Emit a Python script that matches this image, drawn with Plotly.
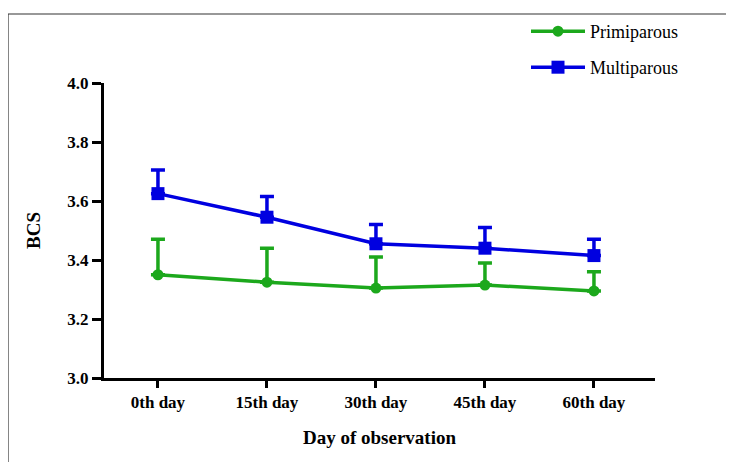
import plotly.graph_objects as go

days = ["0th day", "15th day", "30th day", "45th day", "60th day"]
primi_mean = [3.35, 3.325, 3.305, 3.315, 3.295]
primi_err = [0.12, 0.115, 0.105, 0.075, 0.065]
multi_mean = [3.625, 3.545, 3.455, 3.44, 3.415]
multi_err = [0.08, 0.07, 0.065, 0.07, 0.055]
yticks = [3.0, 3.2, 3.4, 3.6, 3.8, 4.0]

green = "#1ca81c"
blue = "#0000e0"
xs = list(range(len(days)))

fig = go.Figure()
fig.add_trace(go.Scatter(
    x=xs, y=primi_mean, name="Primiparous", mode="lines+markers",
    line=dict(color=green, width=3.5),
    marker=dict(symbol="circle", size=11, color=green),
    error_y=dict(type="data", array=primi_err, arrayminus=[0]*5, symmetric=False,
                 color=green, thickness=3.5, width=7),
    legend="legend",
))
fig.add_trace(go.Scatter(
    x=xs, y=multi_mean, name="Multiparous", mode="lines+markers",
    line=dict(color=blue, width=3.5),
    marker=dict(symbol="square", size=13, color=blue),
    error_y=dict(type="data", array=multi_err, arrayminus=[0]*5, symmetric=False,
                 color=blue, thickness=3.5, width=7),
    legend="legend2",
))

OFF = 8  # page offset of the figure inside the window
W, H = 734 - OFF, 462 - OFF
L, R, T, B = 104 - OFF, 79, 83 - OFF, 84
pw, ph = W - L - R, H - T - B

def px(x):
    return (x - OFF - L) / pw

def py(y):
    return (H - B - (y - OFF)) / ph

font_bold = dict(family="Liberation Serif", size=17, color="black", weight="bold")
legfont = dict(family="Liberation Serif", size=18, color="black")

fig.update_layout(
    width=W, height=H,
    margin=dict(l=L, r=R, t=T, b=B, autoexpand=False),
    paper_bgcolor="white", plot_bgcolor="white",
    xaxis=dict(
        range=[-0.495, 4.56], tickmode="array", tickvals=xs, ticktext=days,
        showline=True, linecolor="black", linewidth=3,
        ticks="outside", ticklen=7, tickwidth=3, tickcolor="black",
        showgrid=False, zeroline=False, tickfont=font_bold,
        title=dict(text="Day of observation", font=dict(family="Liberation Serif", size=19, color="black", weight="bold"), standoff=20),
    ),
    yaxis=dict(
        range=[3.0, 4.0], tickmode="array", tickvals=yticks,
        ticktext=[f"{v:.1f}" for v in yticks],
        showline=True, linecolor="black", linewidth=3,
        ticks="outside", ticklen=9, tickwidth=3, tickcolor="black",
        showgrid=False, zeroline=False, tickfont=font_bold,
        title=dict(text="BCS", font=dict(family="Liberation Serif", size=19, color="black", weight="bold"), standoff=22),
    ),
    legend=dict(x=px(526), y=py(13), xanchor="left", yanchor="top",
                font=legfont, bgcolor="rgba(0,0,0,0)", itemwidth=54),
    legend2=dict(x=px(526), y=py(49), xanchor="left", yanchor="top",
                 font=legfont, bgcolor="rgba(0,0,0,0)", itemwidth=54),
    showlegend=True,
)

# outer frame (left and top edges)
fig.add_shape(type="line", xref="paper", yref="paper",
              x0=px(8), y0=py(14), x1=px(8), y1=py(470),
              line=dict(color="#333333", width=1.2))
fig.add_shape(type="line", xref="paper", yref="paper",
              x0=px(8), y0=py(14), x1=px(740), y1=py(14),
              line=dict(color="#333333", width=1.2))

fig.write_html("out.html")
